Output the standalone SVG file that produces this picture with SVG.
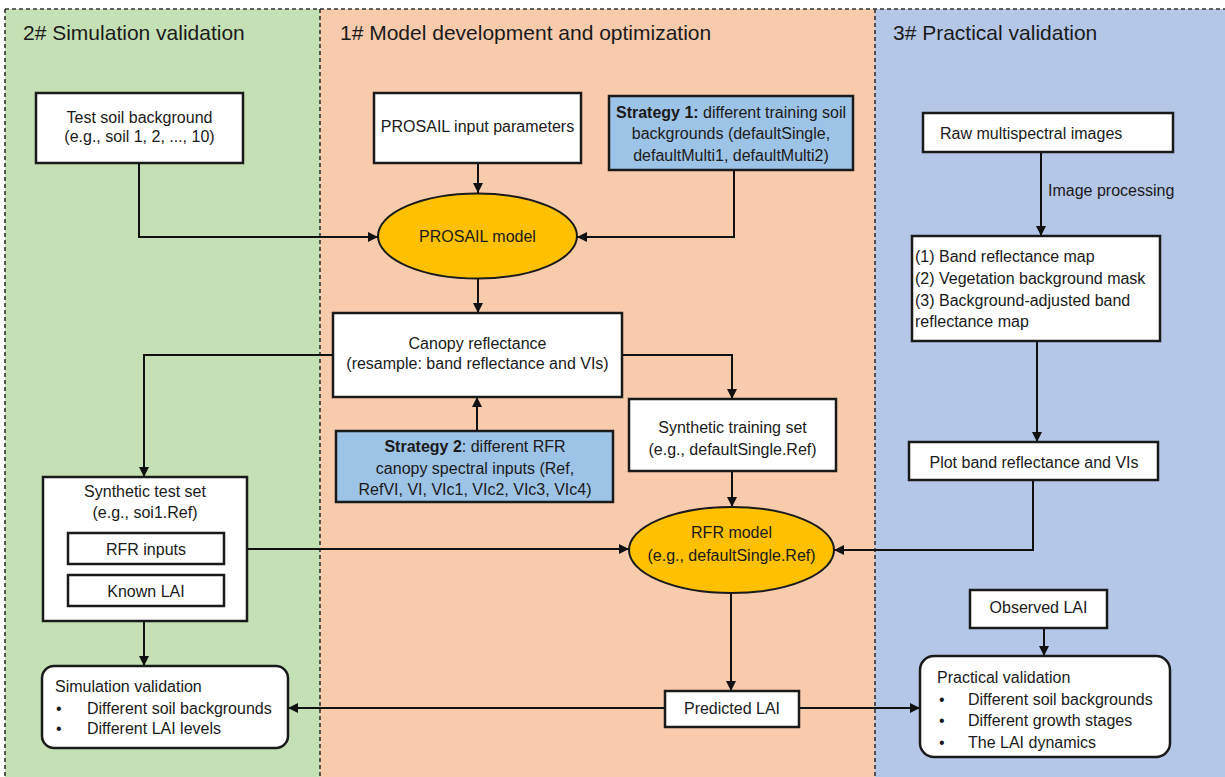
<svg xmlns="http://www.w3.org/2000/svg" width="1225" height="777" viewBox="0 0 1225 777">
<style>
text{font-family:"Liberation Sans",Arial,sans-serif;font-size:16px;fill:#1a1a1a}
.title{font-size:21px}
.c{text-anchor:middle}
.b{font-weight:bold}
.box{fill:#ffffff;stroke:#1a1a1a;stroke-width:2.5}
.strat{fill:#9dc3e6;stroke:#1a1a1a;stroke-width:2.5}
.ell{fill:#ffc000;stroke:#1a1a1a;stroke-width:2}
.div{stroke:#333;stroke-width:1.6;stroke-dasharray:4 3;fill:none}
.con{stroke:#111;stroke-width:2;fill:none}
</style>
<defs>
<marker id="ah" markerWidth="10" markerHeight="10" refX="10" refY="5" orient="auto" markerUnits="userSpaceOnUse">
<path d="M0,0 L10,5 L0,10 z" fill="#111"/>
</marker>
</defs>
<g id="panels">
<rect x="5" y="9" width="315" height="768" fill="#c5e0b4"/>
<rect x="320" y="9" width="555" height="768" fill="#f8cbad"/>
<rect x="875" y="9" width="350" height="768" fill="#b4c7e7"/>
<line class="div" x1="5" y1="9" x2="1225" y2="9"/>
<line class="div" x1="5" y1="9" x2="5" y2="777"/>
<line class="div" x1="320" y1="9" x2="320" y2="777"/>
<line class="div" x1="875" y1="9" x2="875" y2="777"/>
<text class="title" x="23" y="40">2# Simulation validation</text>
<text class="title" x="340" y="40">1# Model development and optimization</text>
<text class="title" x="893" y="40">3# Practical validation</text>
</g>
<g id="connectors">
<polyline class="con" points="139,163 139,237 378,237" marker-end="url(#ah)"/>
<line class="con" x1="478" y1="163" x2="478" y2="193" marker-end="url(#ah)"/>
<polyline class="con" points="734,170 734,237 577,237" marker-end="url(#ah)"/>
<line class="con" x1="478" y1="278" x2="478" y2="313" marker-end="url(#ah)"/>
<polyline class="con" points="333,355 144,355 144,477" marker-end="url(#ah)"/>
<polyline class="con" points="622,355 732,355 732,399" marker-end="url(#ah)"/>
<line class="con" x1="477" y1="431" x2="477" y2="397" marker-end="url(#ah)"/>
<line class="con" x1="732" y1="471" x2="732" y2="507" marker-end="url(#ah)"/>
<line class="con" x1="224" y1="549" x2="629" y2="549" marker-end="url(#ah)"/>
<polyline class="con" points="1033,480 1033,550 834,550" marker-end="url(#ah)"/>
<line class="con" x1="1041" y1="152" x2="1041" y2="236" marker-end="url(#ah)"/>
<text x="1048" y="196">Image processing</text>
<line class="con" x1="1037" y1="341" x2="1037" y2="442" marker-end="url(#ah)"/>
<line class="con" x1="144" y1="621" x2="144" y2="666" marker-end="url(#ah)"/>
<line class="con" x1="731" y1="593" x2="731" y2="691" marker-end="url(#ah)"/>
<line class="con" x1="665" y1="708" x2="288" y2="708" marker-end="url(#ah)"/>
<line class="con" x1="799" y1="708" x2="920" y2="708" marker-end="url(#ah)"/>
<line class="con" x1="1044" y1="628" x2="1044" y2="656" marker-end="url(#ah)"/>
</g>
<g id="test-soil">
<rect class="box" x="36" y="93" width="207" height="70"/>
<text class="c" x="139.5" y="123">Test soil background</text>
<text class="c" x="139.5" y="142">(e.g., soil 1, 2, ..., 10)</text>
</g>
<g id="prosail-input">
<rect class="box" x="374" y="93" width="207" height="70"/>
<text class="c" x="477.5" y="132">PROSAIL input parameters</text>
</g>
<g id="strategy1">
<rect class="strat" x="609" y="96" width="244" height="74"/>
<text class="c" x="731" y="118"><tspan class="b">Strategy 1:</tspan> different training soil</text>
<text class="c" x="731" y="139">backgrounds (defaultSingle,</text>
<text class="c" x="731" y="161">defaultMulti1, defaultMulti2)</text>
</g>
<g id="prosail-model">
<ellipse class="ell" cx="477.5" cy="236" rx="99.5" ry="42.5"/>
<text class="c" x="477.5" y="242">PROSAIL model</text>
</g>
<g id="canopy">
<rect class="box" x="333" y="313" width="289" height="84"/>
<text class="c" x="477.5" y="349">Canopy reflectance</text>
<text class="c" x="477.5" y="369">(resample: band reflectance and VIs)</text>
</g>
<g id="strategy2">
<rect class="strat" x="336" y="431" width="277" height="71"/>
<text class="c" x="475" y="452"><tspan class="b">Strategy 2</tspan>: different RFR</text>
<text class="c" x="475" y="474">canopy spectral inputs (Ref,</text>
<text class="c" x="475" y="495">RefVI, VI, VIc1, VIc2, VIc3, VIc4)</text>
</g>
<g id="synthetic-training">
<rect class="box" x="629" y="399" width="207" height="72"/>
<text class="c" x="732.5" y="433">Synthetic training set</text>
<text class="c" x="732.5" y="455">(e.g., defaultSingle.Ref)</text>
</g>
<g id="rfr-model">
<ellipse class="ell" cx="731.5" cy="550" rx="102.5" ry="43"/>
<text class="c" x="731.5" y="538">RFR model</text>
<text class="c" x="731.5" y="561">(e.g., defaultSingle.Ref)</text>
</g>
<g id="synthetic-test">
<rect class="box" x="43" y="477" width="204" height="144"/>
<text class="c" x="145" y="497">Synthetic test set</text>
<text class="c" x="145" y="518">(e.g., soi1.Ref)</text>
<rect class="box" x="68" y="533" width="156" height="31"/>
<text class="c" x="146" y="555">RFR inputs</text>
<rect class="box" x="68" y="575" width="156" height="31"/>
<text class="c" x="146" y="597">Known LAI</text>
</g>
<g id="simulation-validation">
<rect class="box" x="42" y="666" width="246" height="82" rx="12"/>
<text x="55" y="692">Simulation validation</text>
<text x="56" y="714">•</text><text x="87" y="714">Different soil backgrounds</text>
<text x="56" y="734">•</text><text x="87" y="734">Different LAI levels</text>
</g>
<g id="predicted-lai">
<rect class="box" x="665" y="691" width="134" height="36"/>
<text class="c" x="732" y="714">Predicted LAI</text>
</g>
<g id="raw-images">
<rect class="box" x="923" y="113" width="250" height="39"/>
<text x="940" y="139">Raw multispectral images</text>
</g>
<g id="band-maps">
<rect class="box" x="912" y="236" width="248" height="105"/>
<text x="915" y="262">(1) Band reflectance map</text>
<text x="915" y="284">(2) Vegetation background mask</text>
<text x="915" y="306">(3) Background-adjusted band</text>
<text x="915" y="327">reflectance map</text>
</g>
<g id="plot-band">
<rect class="box" x="909" y="442" width="249" height="38"/>
<text class="c" x="1034" y="468">Plot band reflectance and VIs</text>
</g>
<g id="observed-lai">
<rect class="box" x="970" y="590" width="137" height="38"/>
<text class="c" x="1038.5" y="613">Observed LAI</text>
</g>
<g id="practical-validation">
<rect class="box" x="920" y="656" width="250" height="101" rx="14"/>
<text x="937" y="683">Practical validation</text>
<text x="939" y="705">•</text><text x="968" y="705">Different soil backgrounds</text>
<text x="939" y="726">•</text><text x="968" y="726">Different growth stages</text>
<text x="939" y="748">•</text><text x="968" y="748">The LAI dynamics</text>
</g>
</svg>
